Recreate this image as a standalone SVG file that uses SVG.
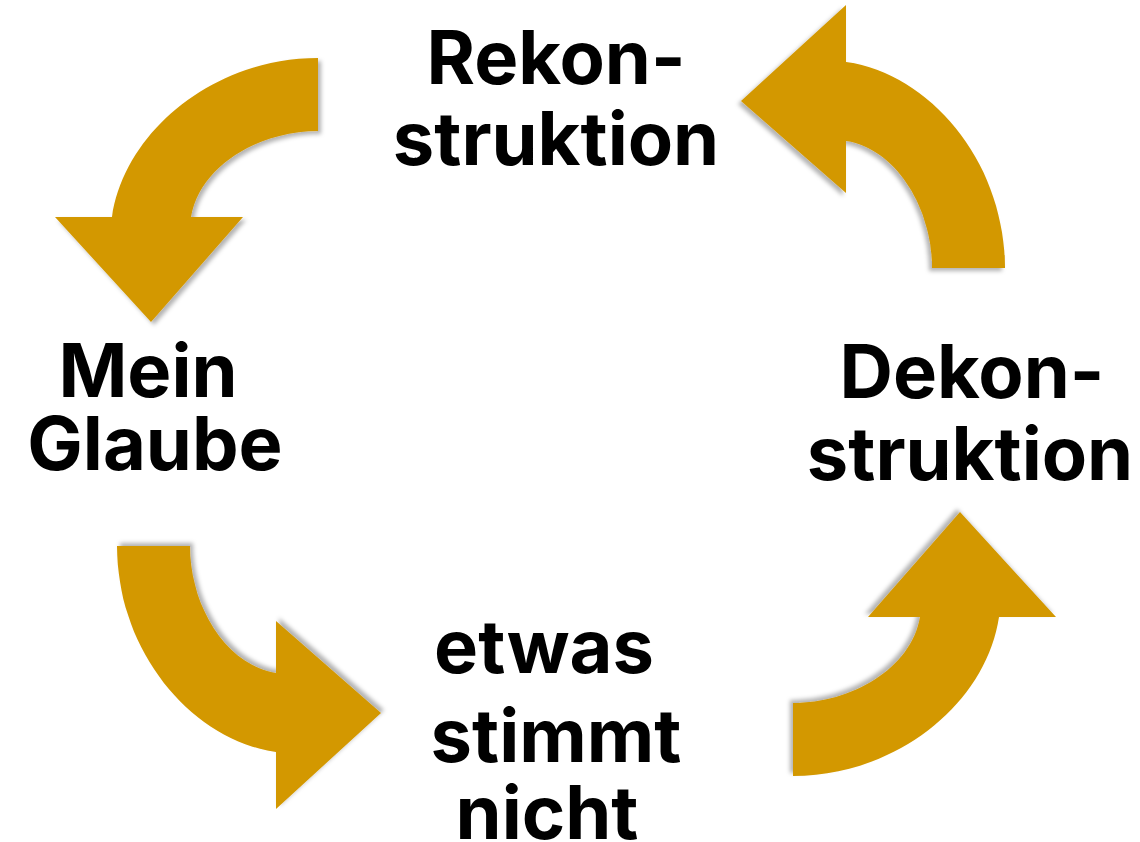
<svg xmlns="http://www.w3.org/2000/svg" xmlns:xlink="http://www.w3.org/1999/xlink" width="1140" height="842" viewBox="0 0 1140 842">
  <style>
    .lbl { font-family: Inter, Roboto, "Liberation Sans", Arial, sans-serif; font-weight: 700; font-size: 74px; fill: #000; text-anchor: middle; }
    .arrow { fill: #D39800; filter: url(#shadow); }
  </style>
  <defs>
    <filter id="shadow" x="-10%" y="-10%" width="130%" height="130%">
      <feDropShadow dx="3" dy="3" stdDeviation="2" flood-color="#000" flood-opacity="0.3"/>
    </filter>
    <path id="curvedArrow" d="M 318,58 L 318,131 C 260,131 200,165 191,217 L 243,217 L 151,322 L 55,217 L 112,217 C 125,130 215,58 318,58 Z"/>
  </defs>
  <rect width="1140" height="842" fill="#fff"/>

  <g id="connectors">
    <use class="arrow" xlink:href="#curvedArrow" href="#curvedArrow"/>
    <use class="arrow" xlink:href="#curvedArrow" href="#curvedArrow" transform="matrix(0 1 -1 0 1063 -50)"/>
    <use class="arrow" xlink:href="#curvedArrow" href="#curvedArrow" transform="matrix(0 -1 1 0 59 864)"/>
    <use class="arrow" xlink:href="#curvedArrow" href="#curvedArrow" transform="matrix(-1 0 0 -1 1111 834)"/>
  </g>

  <g id="node-rekonstruktion">
    <text class="lbl" x="556" y="84">Rekon-</text>
    <text class="lbl" x="556" y="165">struktion</text>
  </g>
  <g id="node-mein-glaube">
    <text class="lbl" x="148" y="397">Mein</text>
    <text class="lbl" x="155" y="470">Glaube</text>
  </g>
  <g id="node-dekonstruktion">
    <text class="lbl" x="972" y="398">Dekon-</text>
    <text class="lbl" x="970" y="480">struktion</text>
  </g>
  <g id="node-etwas-stimmt-nicht">
    <text class="lbl" x="544" y="673">etwas</text>
    <text class="lbl" x="556" y="762">stimmt</text>
    <text class="lbl" x="547" y="839">nicht</text>
  </g>
</svg>
